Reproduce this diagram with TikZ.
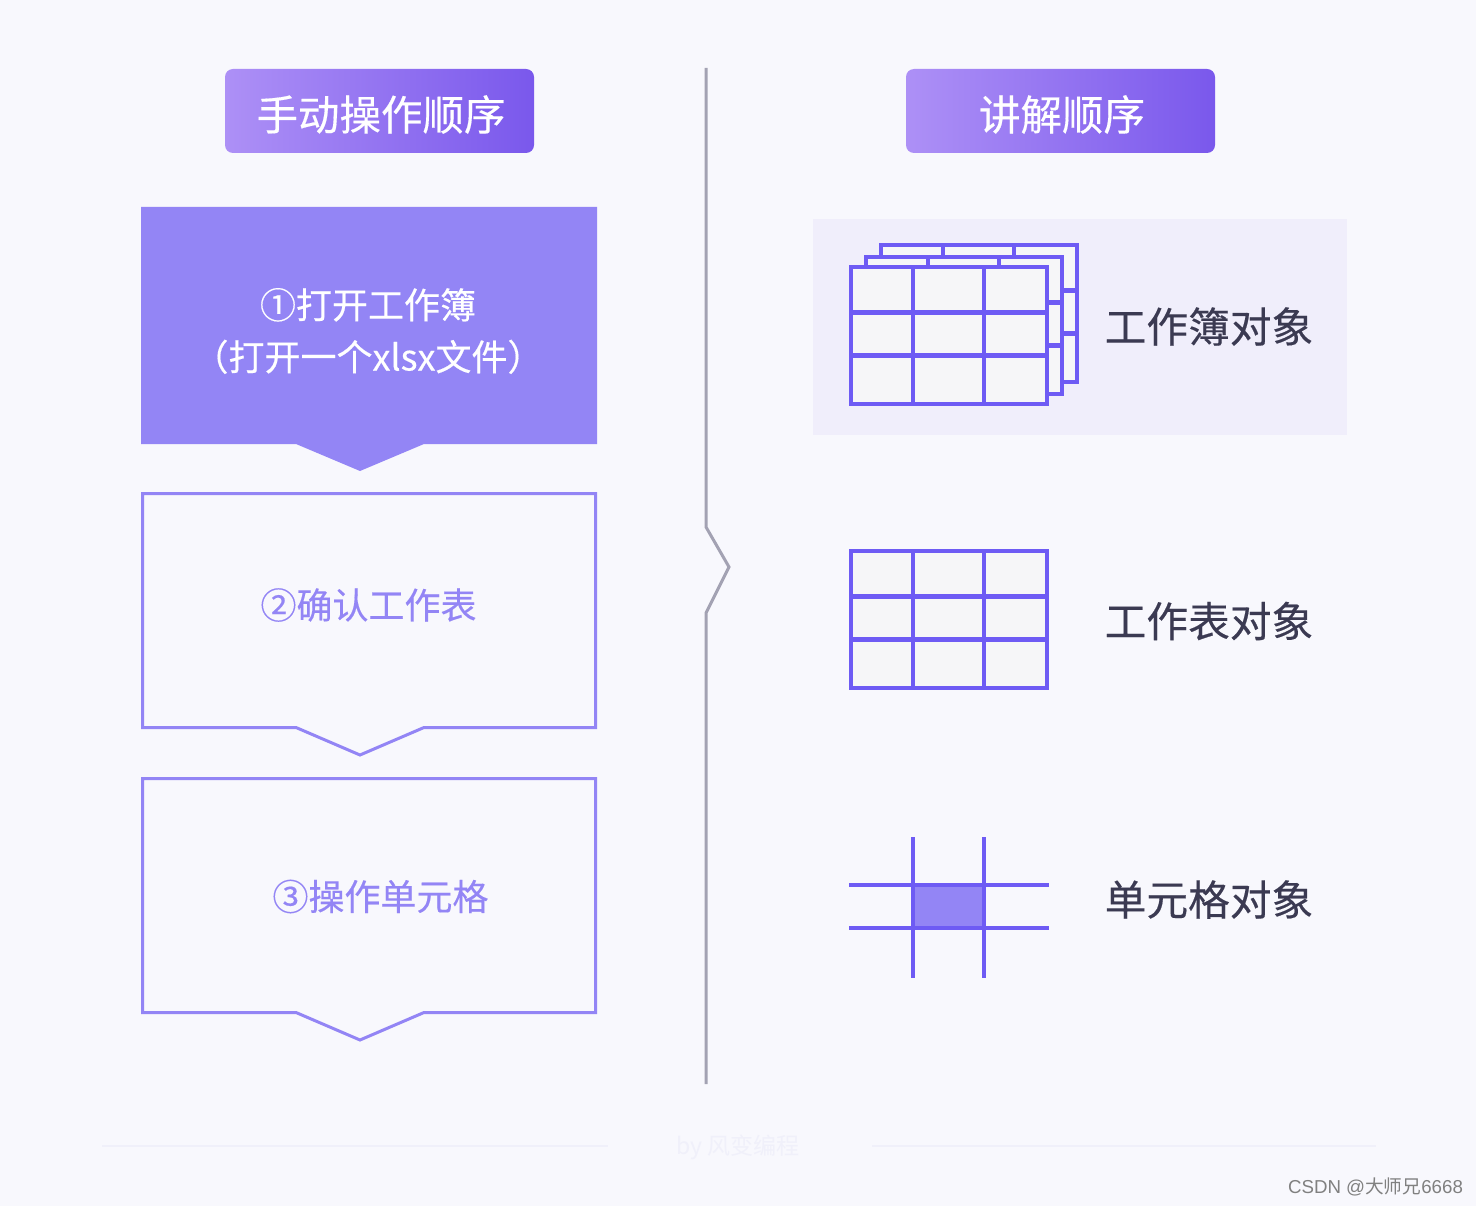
\documentclass[tikz,border=0pt]{standalone}
\usepackage{fontspec}
\setmainfont[FakeBold=0.35]{Noto Sans CJK SC}
\newfontfamily\markfont{Liberation Sans}
\newfontfamily\markcjk{Noto Sans CJK SC}
\usetikzlibrary{positioning}
\definecolor{pagebg}{HTML}{F8F8FD}
\definecolor{panelbg}{HTML}{F0EEFB}
\definecolor{gridline}{HTML}{6E5BF4}
\definecolor{cellbg}{HTML}{F6F6F8}
\definecolor{stepcolor}{HTML}{9385F5}
\definecolor{labeltext}{HTML}{3B3A52}
\definecolor{dividerline}{HTML}{A3A2B3}
\definecolor{footerline}{HTML}{F0F0FA}
\definecolor{headleft}{HTML}{AD90F6}
\definecolor{headright}{HTML}{7A58EC}
\tikzset{
    heading/.style = {rectangle, rounded corners=8pt, minimum width=309pt, minimum height=84pt,
                    left color=headleft, right color=headright, inner sep=0pt},
    headtext/.style = {text=white, inner sep=0pt, font=\fontsize{41.5}{49}\selectfont},
    stepfull/.style = {fill=stepcolor, draw=none},
    stepline/.style = {draw=stepcolor, line width=3pt, fill=none},
    steptext/.style = {text=stepcolor, align=center, inner sep=0pt, font=\fontsize{36}{52}\selectfont},
    objlabel/.style = {text=labeltext, inner sep=0pt, font=\fontsize{41.7}{50}\selectfont},
    sheet/.style = {draw=gridline, line width=4.4pt, fill=cellbg},
    gridrule/.style = {draw=gridline, line width=4.4pt}
}
% one sheet, top left corner at (#1,#2)
\newcommand{\sheetgrid}[2]{
    \begin{scope}[shift={(#1,#2)}]
        \path[sheet] (0,0) rectangle (196,137);
        \draw[gridrule] (62,0) -- (62,137);
        \draw[gridrule] (133,0) -- (133,137);
        \draw[gridrule] (0,45.5) -- (196,45.5);
        \draw[gridrule] (0,88.5) -- (196,88.5);
    \end{scope}
}

\begin{document}
\begin{tikzpicture}[x=1pt, y=-1pt]
    \useasboundingbox (0,0) rectangle (1476,1206);
    \fill[pagebg] (0,0) rectangle (1476,1206);

    % --- Headings ---
    \node[heading] (head_manual) at (379.5,111) {};
    \node[headtext] (head_manual_text) at (381,114.5) {手动操作顺序};
    \node[heading] (head_teach) at (1060.5,111) {};
    \node[headtext] (head_teach_text) at (1062,114.5) {讲解顺序};

    % --- Left Steps ---
    \fill[stepfull] (141,207) -- (597,207) -- (597,444) -- (424,444) -- (360,471) -- (296,444) -- (141,444) -- cycle;
    \draw[stepline] (142.5,493.5) -- (595.5,493.5) -- (595.5,727.5) -- (424,727.5) -- (360,755) -- (296,727.5) -- (142.5,727.5) -- cycle;
    \draw[stepline] (142.5,778.5) -- (595.5,778.5) -- (595.5,1012.5) -- (424,1012.5) -- (360,1040) -- (296,1012.5) -- (142.5,1012.5) -- cycle;

    \node[steptext, text=white] (step_open) at (368,331) {①打开工作簿\\（打开一个xlsx文件）};
    \node[steptext] (step_sheet) at (368.5,605) {②确认工作表};
    \node[steptext] (step_cell) at (380.5,896.5) {③操作单元格};

    % --- Divider ---
    \draw[dividerline, line width=3pt] (706,68) -- (706,527) -- (729,567) -- (706,613) -- (706,1084);

    % --- Workbook Object ---
    \fill[panelbg] (813,219) rectangle (1347,435);
    \sheetgrid{881}{245}
    \sheetgrid{866}{257}
    \sheetgrid{851}{267}
    \node[objlabel] (obj_book) at (1209,326.5) {工作簿对象};

    % --- Sheet Object ---
    \sheetgrid{851}{551}
    \node[objlabel] (obj_sheet) at (1209,621) {工作表对象};

    % --- Cell Object ---
    \fill[stepcolor] (913,885) rectangle (984,928);
    \draw[gridrule] (849,885) -- (1049,885);
    \draw[gridrule] (849,928) -- (1049,928);
    \draw[gridrule] (913,837) -- (913,978);
    \draw[gridrule] (984,837) -- (984,978);
    \node[objlabel] (obj_cell) at (1209,899.5) {单元格对象};

    % --- Footer ---
    \draw[footerline, line width=1.5pt] (102,1146) -- (608,1146);
    \draw[footerline, line width=1.5pt] (872,1146) -- (1376,1146);
    \node[text=footerline, inner sep=0pt, font=\markcjk\fontsize{23}{28}\selectfont] (footer_by) at (738,1147.5) {by 风变编程};
    \node[text=black!50, inner sep=0pt, font=\fontsize{18.7}{24}\selectfont\markfont] (footer_mark) at (1375.5,1187) {CSDN @{\markcjk 大师兄}6668};
\end{tikzpicture}
\end{document}
